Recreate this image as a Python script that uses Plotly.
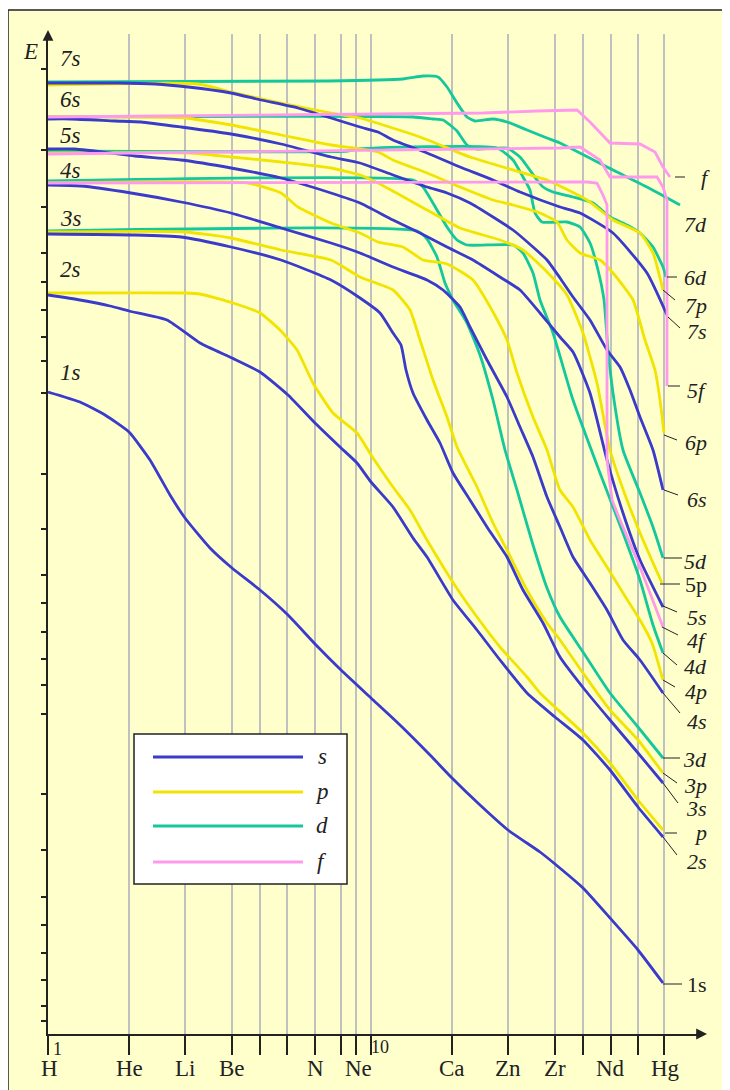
import plotly.graph_objects as go

# ---------------------------------------------------------------
# Orbital energy curves.  x = position on the (quasi-log) atomic
# number scale, y = depth on the (quasi-log) |E| scale (grows downward)
# ---------------------------------------------------------------
ORB_1S_X = [48, 80, 105, 129, 150, 170, 185, 210, 232, 260, 288, 316, 341, 371, 400, 430, 452, 480, 508, 540, 555, 583, 610, 638, 663]
ORB_1S_Y = [392, 402, 415, 432, 460, 495, 518, 548, 568, 590, 615, 645, 670, 698, 725, 755, 778, 805, 830, 852, 864, 888, 918, 950, 983]

ORB_2S_X = [48, 80, 110, 129, 167, 200, 232, 260, 288, 315, 340, 357, 371, 393, 413, 427, 453, 477, 500, 527, 555, 583, 610, 638, 663]
ORB_2S_Y = [295, 300, 306, 311, 320, 343, 358, 372, 395, 423, 447, 463, 482, 507, 538, 557, 600, 630, 660, 693, 717, 740, 770, 807, 837]

ORB_2P_X = [48, 185, 200, 233, 260, 280, 297, 313, 333, 357, 373, 393, 410, 427, 447, 460, 477, 500, 527, 540, 583, 610, 638, 663]
ORB_2P_Y = [293, 293, 294, 303, 313, 330, 350, 383, 413, 433, 458, 487, 510, 540, 573, 593, 617, 647, 677, 693, 733, 763, 800, 830]

ORB_3S_X = [48, 135, 181, 231, 281, 331, 360, 380, 393, 401, 406, 413, 427, 440, 453, 470, 487, 507, 523, 543, 560, 585, 610, 638, 663]
ORB_3S_Y = [234, 235, 237, 247, 260, 280, 298, 313, 333, 345, 370, 393, 420, 443, 473, 500, 527, 557, 590, 623, 657, 690, 720, 753, 783]

ORB_3P_X = [48, 185, 231, 281, 331, 360, 393, 410, 420, 433, 447, 457, 477, 493, 507, 527, 547, 560, 583, 610, 638, 663]
ORB_3P_Y = [232, 232, 238, 250, 260, 277, 290, 310, 340, 380, 417, 447, 487, 523, 550, 590, 623, 640, 673, 710, 740, 773]

ORB_3D_X = [48, 417, 427, 437, 445, 453, 467, 480, 493, 505, 517, 533, 547, 560, 583, 610, 638, 663]
ORB_3D_Y = [231, 231, 239, 257, 283, 300, 323, 355, 400, 450, 490, 545, 588, 617, 652, 693, 727, 758]

ORB_4S_X = [48, 81, 131, 181, 231, 281, 331, 360, 393, 427, 443, 460, 470, 487, 507, 520, 533, 547, 560, 573, 590, 607, 623, 640, 663]
ORB_4S_Y = [185, 186, 193, 202, 213, 228, 243, 253, 267, 280, 290, 307, 327, 360, 397, 427, 457, 497, 527, 557, 583, 610, 640, 660, 693]

ORB_4P_X = [48, 248, 281, 298, 331, 360, 378, 403, 423, 447, 473, 493, 507, 517, 533, 547, 560, 573, 590, 607, 623, 640, 652, 663]
ORB_4P_Y = [183, 183, 193, 207, 223, 233, 242, 247, 260, 264, 280, 312, 340, 373, 417, 450, 490, 507, 540, 567, 593, 620, 643, 680]

ORB_4D_X = [48, 413, 423, 437, 447, 457, 467, 513, 523, 533, 540, 553, 573, 600, 623, 640, 653, 663]
ORB_4D_Y = [181, 180, 187, 210, 227, 240, 245, 245, 253, 273, 300, 333, 400, 473, 533, 580, 625, 653]

ORB_4F_X = [48, 587, 597, 603, 607, 607, 612, 620, 640, 653, 663]
ORB_4F_Y = [183, 182, 183, 195, 205, 460, 500, 520, 567, 600, 627]

ORB_5S_X = [48, 75, 135, 181, 231, 281, 331, 360, 393, 420, 447, 473, 500, 520, 540, 560, 573, 590, 607, 623, 640, 663]
ORB_5S_Y = [149, 149, 156, 160, 168, 178, 193, 203, 220, 233, 247, 260, 277, 290, 313, 337, 352, 393, 460, 513, 560, 607]

ORB_5P_X = [48, 190, 231, 281, 331, 360, 378, 427, 460, 500, 523, 547, 567, 583, 597, 610, 627, 643, 662]
ORB_5P_Y = [153, 153, 157, 162, 168, 175, 183, 210, 228, 240, 250, 272, 295, 333, 383, 450, 500, 540, 583]

ORB_5D_X = [48, 348, 358, 497, 513, 523, 530, 535, 542, 567, 580, 590, 598, 604, 608, 614, 623, 640, 653, 663]
ORB_5D_Y = [151, 151, 149, 148, 160, 177, 190, 213, 222, 222, 227, 243, 270, 300, 350, 400, 450, 493, 527, 558]

ORB_5F_X = [48, 560, 580, 600, 610, 657, 663, 667, 667]
ORB_5F_Y = [154, 148, 147, 160, 177, 177, 187, 200, 386]

ORB_6S_X = [48, 71, 115, 141, 181, 231, 281, 331, 360, 393, 427, 447, 470, 493, 513, 533, 547, 560, 573, 590, 607, 620, 630, 640, 653, 663]
ORB_6S_Y = [119, 119, 121, 122, 127, 134, 144, 157, 163, 175, 187, 193, 203, 217, 230, 247, 260, 278, 297, 320, 350, 367, 390, 417, 450, 490]

ORB_6P_X = [48, 185, 231, 281, 331, 378, 393, 427, 460, 493, 513, 540, 557, 567, 580, 600, 613, 633, 645, 655, 660, 664]
ORB_6P_Y = [117, 118, 125, 135, 145, 152, 160, 173, 187, 200, 205, 213, 222, 240, 253, 260, 273, 300, 340, 370, 400, 433]

ORB_6D_X = [48, 413, 433, 443, 450, 457, 467, 477, 507, 520, 537, 543, 553, 573, 593, 610, 627, 640, 653, 663, 666]
ORB_6D_Y = [117, 117, 119, 120, 125, 131, 145, 149, 148, 157, 180, 187, 192, 197, 203, 217, 225, 233, 247, 267, 277]

ORB_6F_X = [48, 483, 537, 577, 590, 610, 640, 655, 663, 670]
ORB_6F_Y = [117, 113, 111, 110, 122, 143, 144, 152, 167, 177]

ORB_7S_X = [48, 118, 155, 188, 231, 261, 298, 331, 360, 378, 393, 427, 460, 493, 520, 560, 580, 613, 647, 667]
ORB_7S_Y = [83, 83, 84, 87, 93, 100, 108, 118, 127, 132, 140, 153, 167, 180, 192, 207, 213, 233, 273, 315]

ORB_7P_X = [48, 198, 231, 281, 331, 360, 420, 470, 537, 547, 587, 613, 640, 653, 663]
ORB_7P_Y = [85, 84, 92, 103, 113, 118, 137, 157, 177, 180, 200, 220, 233, 253, 290]

ORB_7D_X = [48, 328, 403, 423, 438, 447, 457, 467, 475, 493, 507, 527, 547, 560, 613, 647, 680]
ORB_7D_Y = [82, 81, 79, 76, 77, 87, 103, 117, 121, 119, 122, 130, 138, 143, 170, 187, 205]

# axis scale: grid positions and element labels
X_GRID = [48, 129, 185, 232, 260, 287, 315, 341, 356, 371, 452, 508, 555, 583, 611, 638, 664]
X_LABELS = ["H", "He", "Li", "Be", "N", "Ne", "Ca", "Zn", "Zr", "Nd", "Hg"]
X_LABEL_POS = [49, 129, 185, 232, 315, 358, 452, 508, 555, 610, 665]
Y_TICKS = [69, 150, 207, 253, 282, 310, 337, 361, 393, 474, 529, 575, 603, 632, 659, 685, 714,
           794, 850, 897, 925, 953, 980, 1006, 1021]

# curve end labels (text, vertical position)
END_LABELS = ["<i>f</i>", "<i>7d</i>", "<i>6d</i>", "<i>7p</i>", "<i>7s</i>", "<i>5f</i>", "<i>6p</i>",
              "<i>6s</i>", "<i>5d</i>", "5p", "<i>5s</i>", "<i>4f</i>", "<i>4d</i>", "<i>4p</i>",
              "<i>4s</i>", "<i>3d</i>", "<i>3p</i>", "<i>3s</i>", "<i>p</i>", "<i>2s</i>", "1s"]
END_LABEL_Y = [177, 225, 277, 305, 331, 390, 442, 500, 561, 585, 617, 640, 666, 692, 721, 759, 785, 808, 833, 861, 984]
LEFT_LABELS = ["<i>7s</i>", "<i>6s</i>", "<i>5s</i>", "<i>4s</i>", "<i>3s</i>", "<i>2s</i>", "<i>1s</i>"]
LEFT_LABEL_Y = [58, 100, 136, 170, 218, 269, 373]
LEGEND_NAMES = ["s", "p", "d", "f"]

COLORS = {"s": "#3a3acb", "p": "#f0e400", "d": "#14c89c", "f": "#ff99ee"}
BG = "#ffffcc"
FONT = "Liberation Serif"
INK = "#222222"

CURVES = [
    ("d", ORB_3D_X, ORB_3D_Y), ("d", ORB_4D_X, ORB_4D_Y), ("d", ORB_5D_X, ORB_5D_Y),
    ("d", ORB_6D_X, ORB_6D_Y), ("d", ORB_7D_X, ORB_7D_Y),
    ("p", ORB_2P_X, ORB_2P_Y), ("p", ORB_3P_X, ORB_3P_Y), ("p", ORB_4P_X, ORB_4P_Y),
    ("p", ORB_5P_X, ORB_5P_Y), ("p", ORB_6P_X, ORB_6P_Y), ("p", ORB_7P_X, ORB_7P_Y),
    ("s", ORB_1S_X, ORB_1S_Y), ("s", ORB_2S_X, ORB_2S_Y), ("s", ORB_3S_X, ORB_3S_Y),
    ("s", ORB_4S_X, ORB_4S_Y), ("s", ORB_5S_X, ORB_5S_Y), ("s", ORB_6S_X, ORB_6S_Y),
    ("s", ORB_7S_X, ORB_7S_Y),
    ("f", ORB_4F_X, ORB_4F_Y), ("f", ORB_5F_X, ORB_5F_Y), ("f", ORB_6F_X, ORB_6F_Y),
]

# the page body keeps an 8px margin, so the figure is 8px smaller on each axis
PAGE_OFF = 8
W, H = 730 - PAGE_OFF, 1090 - PAGE_OFF
PLOT_L, PLOT_R, PLOT_T, PLOT_B = 48, 700, 34, 1034      # plot area in page pixels
ML, MT = PLOT_L - PAGE_OFF, PLOT_T - PAGE_OFF
MR, MB = W - (PLOT_R - PAGE_OFF), H - (PLOT_B - PAGE_OFF)
PW, PH = PLOT_R - PLOT_L, PLOT_B - PLOT_T


def fx(x):  # page column -> paper fraction
    return (x - PLOT_L) / PW


def fy(y):  # page row -> paper fraction
    return (PLOT_B - y) / PH


fig = go.Figure()
for kind, xs, ys in CURVES:
    fig.add_trace(go.Scatter(
        x=xs, y=ys, mode="lines", hoverinfo="skip", showlegend=False,
        line=dict(color=COLORS[kind], width=2.8,
                  shape="linear" if kind == "f" else "spline",
                  smoothing=0.5 if kind != "f" else None),
    ))

shapes = []
annotations = []

# background frame
shapes.append(dict(type="rect", xref="paper", yref="paper", x0=fx(8), x1=fx(745), y0=fy(1105), y1=fy(10),
                   fillcolor=BG, line=dict(color=INK, width=1.5), layer="below"))

# leader lines from curve ends to labels
LEADERS = [(675, 177, 685, 177), (667, 277, 677, 277), (663, 290, 675, 300), (668, 317, 680, 328),
           (668, 386, 680, 386), (664, 435, 677, 440), (664, 490, 678, 495), (664, 558, 682, 558),
           (660, 584, 680, 584), (663, 606, 677, 612), (662, 627, 678, 635), (663, 653, 677, 665),
           (663, 680, 675, 687), (663, 693, 680, 713), (663, 758, 680, 758), (663, 773, 677, 783),
           (663, 783, 678, 803), (665, 833, 677, 833), (663, 837, 677, 855), (663, 984, 682, 984)]
for x0, y0, x1, y1 in LEADERS:
    shapes.append(dict(type="line", xref="paper", yref="paper", x0=fx(x0), y0=fy(y0), x1=fx(x1), y1=fy(y1),
                       line=dict(color=INK, width=1)))

for txt, yy in zip(END_LABELS, END_LABEL_Y):
    annotations.append(dict(xref="paper", yref="paper", x=fx(712 if txt == "<i>f</i>" else 709), y=fy(yy),
                            xanchor="right", yanchor="middle", text=txt, showarrow=False,
                            font=dict(family=FONT, size=22, color=INK)))

for txt, yy in zip(LEFT_LABELS, LEFT_LABEL_Y):
    annotations.append(dict(xref="paper", yref="paper", x=fx(58), y=fy(yy), xanchor="left", yanchor="middle",
                            text=txt, showarrow=False, font=dict(family=FONT, size=23, color=INK)))

for txt, xx in zip(X_LABELS, X_LABEL_POS):
    annotations.append(dict(xref="paper", yref="paper", x=fx(xx), y=fy(1068), xanchor="center",
                            yanchor="middle", text=txt, showarrow=False,
                            font=dict(family=FONT, size=23, color=INK)))
annotations.append(dict(xref="paper", yref="paper", x=fx(57), y=fy(1049), text="1", showarrow=False,
                        xanchor="center", yanchor="middle", font=dict(family=FONT, size=18, color=INK)))
annotations.append(dict(xref="paper", yref="paper", x=fx(380), y=fy(1047), text="10", showarrow=False,
                        xanchor="center", yanchor="middle", font=dict(family=FONT, size=18, color=INK)))
annotations.append(dict(xref="paper", yref="paper", x=fx(30), y=fy(51), text="<i>E</i>", showarrow=False,
                        xanchor="center", yanchor="middle", font=dict(family=FONT, size=23, color=INK)))

# axis arrows
annotations.append(dict(xref="paper", yref="paper", x=fx(48), y=fy(30), ax=0, ay=10, text="",
                        showarrow=True, arrowhead=2, arrowsize=1.2, arrowwidth=1.8, arrowcolor=INK))
annotations.append(dict(xref="paper", yref="paper", x=fx(707), y=fy(1034), ax=-12, ay=0, text="",
                        showarrow=True, arrowhead=2, arrowsize=1.2, arrowwidth=1.8, arrowcolor=INK))

# legend box
shapes.append(dict(type="rect", xref="paper", yref="paper", x0=fx(134), x1=fx(347), y0=fy(884), y1=fy(734),
                   fillcolor="white", line=dict(color=INK, width=1.5)))
for name, yy in zip(LEGEND_NAMES, [757, 792, 826, 862]):
    shapes.append(dict(type="line", xref="paper", yref="paper", x0=fx(153), x1=fx(303), y0=fy(yy), y1=fy(yy),
                       line=dict(color=COLORS[name], width=3)))
    annotations.append(dict(xref="paper", yref="paper", x=fx(322), y=fy(yy - 1), xanchor="center",
                            yanchor="middle", text="<i>%s</i>" % name, showarrow=False,
                            font=dict(family=FONT, size=23, color=INK)))

fig.update_layout(
    width=W, height=H, autosize=False,
    margin=dict(l=ML, r=MR, t=MT, b=MB, pad=0),
    paper_bgcolor="white", plot_bgcolor="rgba(0,0,0,0)",
    shapes=shapes, annotations=annotations,
    xaxis=dict(range=[PLOT_L, PLOT_R], showgrid=True, gridcolor="#c0c0c0", gridwidth=1.5,
               tickmode="array", tickvals=X_GRID, showticklabels=False,
               ticks="outside", ticklen=19, tickwidth=1.5, tickcolor=INK,
               showline=True, linecolor=INK, linewidth=2, zeroline=False, fixedrange=True),
    yaxis=dict(range=[PLOT_B, PLOT_T], showgrid=False, tickmode="array", tickvals=Y_TICKS,
               showticklabels=False, ticks="outside", ticklen=5, tickwidth=1.5, tickcolor=INK,
               showline=True, linecolor=INK, linewidth=2, zeroline=False, fixedrange=True),
)

fig.write_html("out.html")
